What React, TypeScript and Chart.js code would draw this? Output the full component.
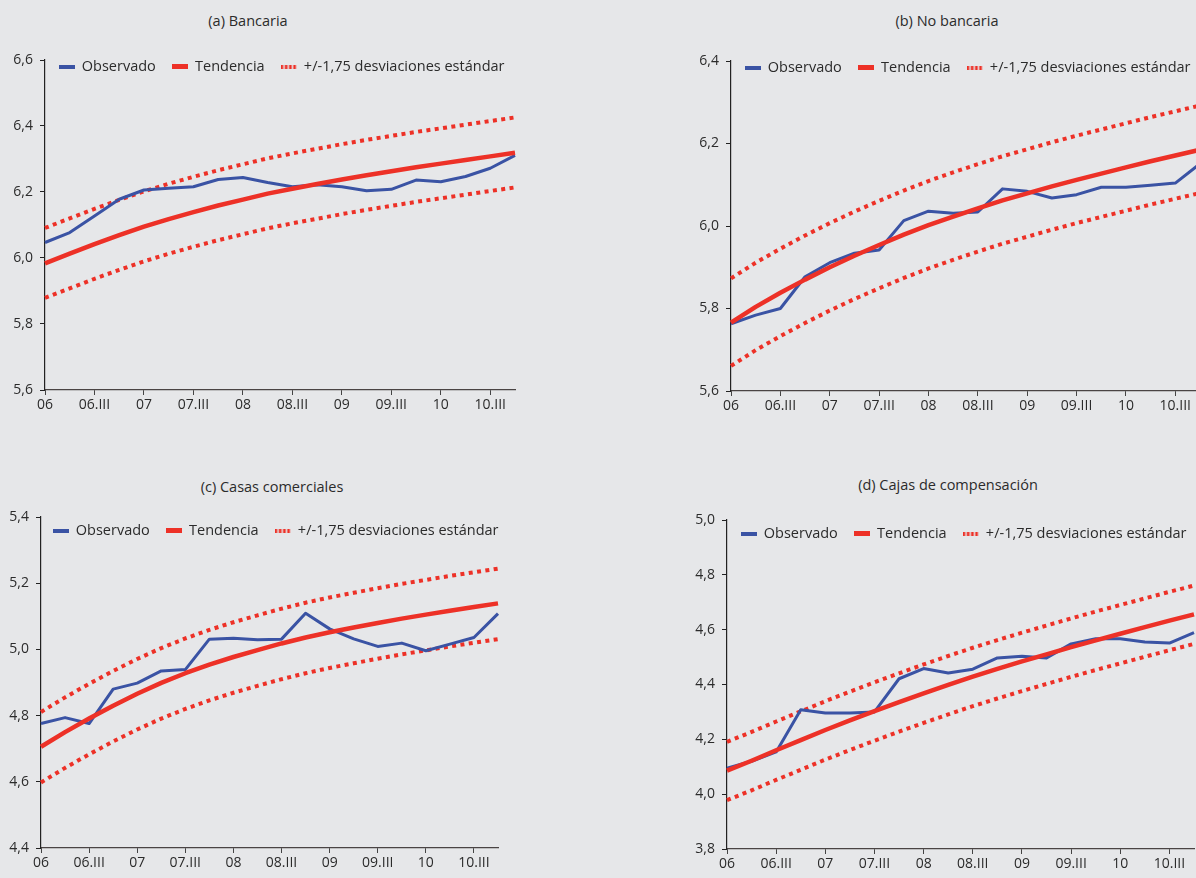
import React, { useEffect, useRef } from "react";
import { Chart, registerables } from "chart.js";

Chart.register(...registerables);

const FONT = '"Open Sans", "Noto Sans", sans-serif';
const BLUE = "#3a53a4";
const RED = "#ed3127";
const TEXT = "#2b2b2b";
const BG = "#e6e7e9";

const QUARTERS = [
  "06", "06.II", "06.III", "06.IV",
  "07", "07.II", "07.III", "07.IV",
  "08", "08.II", "08.III", "08.IV",
  "09", "09.II", "09.III", "09.IV",
  "10", "10.II", "10.III", "10.IV",
];

const LEGEND_LABELS = ["Observado", "Tendencia", "+/-1,75 desviaciones estándar"];

// (a) Bancaria
const A_OBS = [6.047, 6.077, 6.127, 6.178, 6.206, 6.211, 6.216, 6.238, 6.244, 6.229, 6.216, 6.222, 6.216, 6.204, 6.208, 6.236, 6.231, 6.247, 6.272, 6.311];
const A_TREND = [5.984, 6.013, 6.042, 6.069, 6.095, 6.118, 6.139, 6.159, 6.177, 6.195, 6.210, 6.224, 6.238, 6.251, 6.263, 6.275, 6.286, 6.297, 6.308, 6.319];
const A_UP = [6.091, 6.120, 6.149, 6.176, 6.202, 6.225, 6.246, 6.266, 6.284, 6.302, 6.317, 6.331, 6.345, 6.358, 6.370, 6.382, 6.393, 6.404, 6.415, 6.426];
const A_LOW = [5.879, 5.908, 5.937, 5.964, 5.990, 6.013, 6.034, 6.054, 6.072, 6.090, 6.105, 6.119, 6.133, 6.146, 6.158, 6.170, 6.181, 6.192, 6.203, 6.214];

// (b) No bancaria
const B_OBS = [5.763, 5.784, 5.800, 5.877, 5.911, 5.934, 5.942, 6.013, 6.036, 6.031, 6.034, 6.090, 6.084, 6.068, 6.076, 6.094, 6.094, 6.099, 6.104, 6.151];
const B_TREND = [5.766, 5.804, 5.838, 5.870, 5.900, 5.928, 5.954, 5.979, 6.002, 6.023, 6.043, 6.062, 6.079, 6.096, 6.112, 6.127, 6.142, 6.157, 6.171, 6.185];
const B_UP = [5.873, 5.911, 5.945, 5.977, 6.007, 6.035, 6.061, 6.086, 6.109, 6.130, 6.150, 6.169, 6.186, 6.203, 6.219, 6.234, 6.249, 6.264, 6.278, 6.292];
const B_LOW = [5.661, 5.699, 5.733, 5.765, 5.795, 5.823, 5.849, 5.874, 5.897, 5.918, 5.938, 5.957, 5.974, 5.991, 6.007, 6.022, 6.037, 6.052, 6.066, 6.080];

// (c) Casas comerciales
const C_OBS = [4.776, 4.794, 4.776, 4.880, 4.898, 4.935, 4.939, 5.031, 5.034, 5.029, 5.031, 5.109, 5.062, 5.032, 5.009, 5.019, 4.996, 5.016, 5.036, 5.108];
const C_TREND = [4.706, 4.750, 4.791, 4.830, 4.866, 4.899, 4.928, 4.954, 4.977, 4.998, 5.018, 5.036, 5.052, 5.066, 5.080, 5.093, 5.105, 5.117, 5.128, 5.139];
const C_UP = [4.811, 4.855, 4.896, 4.935, 4.971, 5.004, 5.033, 5.059, 5.082, 5.103, 5.123, 5.141, 5.157, 5.171, 5.185, 5.198, 5.210, 5.222, 5.233, 5.244];
const C_LOW = [4.598, 4.642, 4.683, 4.722, 4.758, 4.791, 4.820, 4.846, 4.869, 4.890, 4.910, 4.928, 4.944, 4.958, 4.972, 4.985, 4.997, 5.009, 5.020, 5.031];

// (d) Cajas de compensación
const D_OBS = [4.095, 4.120, 4.154, 4.308, 4.296, 4.296, 4.300, 4.421, 4.458, 4.442, 4.456, 4.497, 4.503, 4.497, 4.548, 4.567, 4.567, 4.555, 4.551, 4.589];
const D_TREND = [4.086, 4.122, 4.160, 4.197, 4.234, 4.269, 4.303, 4.336, 4.368, 4.399, 4.429, 4.457, 4.484, 4.510, 4.536, 4.561, 4.585, 4.609, 4.633, 4.656];
const D_UP = [4.191, 4.227, 4.265, 4.302, 4.339, 4.374, 4.408, 4.441, 4.473, 4.504, 4.534, 4.562, 4.589, 4.615, 4.641, 4.666, 4.690, 4.714, 4.738, 4.761];
const D_LOW = [3.978, 4.014, 4.052, 4.089, 4.126, 4.161, 4.195, 4.228, 4.260, 4.291, 4.321, 4.349, 4.376, 4.402, 4.428, 4.453, 4.477, 4.501, 4.525, 4.548];

const LEG_PAD = 16;
const LEG_FONT = 14.5;
const LEGEND_H = LEG_FONT + LEG_PAD + 10;

function makeSample(kind: string): HTMLCanvasElement {
  const c = document.createElement("canvas");
  c.width = 16;
  c.height = kind === "trend" ? 5 : 4;
  const ctx = c.getContext("2d")!;
  if (kind === "obs") {
    ctx.fillStyle = BLUE;
    ctx.fillRect(0, 0, 16, 4);
  } else if (kind === "trend") {
    ctx.fillStyle = RED;
    ctx.fillRect(0, 0, 16, 5);
  } else {
    ctx.fillStyle = RED;
    for (let i = 0; i < 4; i++) ctx.fillRect(i * 4.2, 0, 2.6, 4);
  }
  return c;
}

// moves the legend inside the plot area, on top of its first row
function makeLegendShift(dx: number, dy: number) {
  return {
    id: "legendShift",
    afterLayout(chart: any) {
      const lg = chart.legend;
      const ca = chart.chartArea;
      if (!lg || !ca) return;
      const h = lg.height;
      lg.left = ca.left + dx - 40;
      lg.right = ca.right + dx + 40;
      lg.width = lg.right - lg.left;
      lg.top = ca.top - LEG_PAD + dy - LEG_FONT / 2;
      lg.bottom = lg.top + h;
    },
  };
}

type PanelProps = {
  title: string;
  titleX: number;
  titleY: number;
  obs: number[];
  trend: number[];
  up: number[];
  low: number[];
  yMin: number;
  yMax: number;
  box: { L: number; T: number; W: number; H: number };
  area: { left: number; top: number; right: number; bottom: number };
  legendDx: number;
  legendDy: number;
};

const Y_W = 40;
const X_H = 28;

function Panel(p: PanelProps) {
  const ref = useRef<HTMLCanvasElement | null>(null);
  useEffect(() => {
    if (!ref.current) return;
    const samples = [makeSample("obs"), makeSample("trend"), makeSample("band")];
    const padding = {
      left: p.area.left - p.box.L - Y_W,
      top: p.area.top - p.box.T - LEGEND_H,
      right: p.box.L + p.box.W - p.area.right,
      bottom: p.box.T + p.box.H - p.area.bottom - X_H,
    };
    const chart = new Chart(ref.current, {
      type: "line",
      data: {
        labels: QUARTERS,
        datasets: [
          {
            label: LEGEND_LABELS[0],
            data: p.obs,
            borderColor: BLUE,
            borderWidth: 3,
            pointRadius: 0,
            tension: 0,
            fill: false,
            order: 1,
            borderJoinStyle: "round",
          },
          {
            label: LEGEND_LABELS[1],
            data: p.trend,
            borderColor: RED,
            borderWidth: 4.5,
            pointRadius: 0,
            tension: 0,
            fill: false,
            order: 0,
            borderJoinStyle: "round",
          },
          {
            label: LEGEND_LABELS[2],
            data: p.up,
            borderColor: RED,
            borderWidth: 4,
            borderDash: [4, 4.4],
            borderCapStyle: "butt",
            pointRadius: 0,
            tension: 0,
            fill: false,
            order: 2,
          },
          {
            label: "lower",
            data: p.low,
            borderColor: RED,
            borderWidth: 4,
            borderDash: [4, 4.4],
            borderCapStyle: "butt",
            pointRadius: 0,
            tension: 0,
            fill: false,
            order: 3,
          },
        ],
      },
      options: {
        responsive: false,
        animation: false,
        events: [],
        layout: { padding },
        plugins: {
          tooltip: { enabled: false },
          title: { display: false },
          legend: {
            position: "top",
            align: "center",
            labels: {
              usePointStyle: true,
              pointStyleWidth: 16,
              padding: LEG_PAD,
              font: { family: FONT, size: LEG_FONT },
              color: TEXT,
              generateLabels: () =>
                LEGEND_LABELS.map((t, i) => ({
                  text: t,
                  pointStyle: samples[i],
                  fillStyle: "rgba(0,0,0,0)",
                  strokeStyle: "rgba(0,0,0,0)",
                  lineWidth: 0,
                  hidden: false,
                  datasetIndex: i,
                  fontColor: TEXT,
                })),
            },
          },
        },
        scales: {
          x: {
            type: "category",
            offset: false,
            afterFit: (s: any) => {
              s.height = X_H;
            },
            grid: {
              display: true,
              drawOnChartArea: false,
              drawTicks: true,
              tickLength: 5,
              color: "#444",
            },
            border: { display: true, color: "#4a4444", width: 1.2 },
            ticks: {
              autoSkip: false,
              maxRotation: 0,
              minRotation: 0,
              padding: 2,
              color: TEXT,
              font: { family: FONT, size: 14 },
              callback: (_v: any, i: number) => (i % 2 === 0 ? QUARTERS[i] : null),
            },
          },
          y: {
            min: p.yMin,
            max: p.yMax,
            afterFit: (s: any) => {
              s.width = Y_W;
            },
            grid: {
              display: true,
              drawOnChartArea: false,
              drawTicks: true,
              tickLength: 5,
              color: "#222",
            },
            border: { display: true, color: "#222", width: 1.2 },
            ticks: {
              stepSize: 0.2,
              padding: 7,
              color: TEXT,
              font: { family: FONT, size: 14 },
              callback: (v: any) => Number(v).toFixed(1).replace(".", ","),
            },
          },
        },
      },
      plugins: [makeLegendShift(p.legendDx, p.legendDy)],
    } as any);
    return () => chart.destroy();
  }, []);

  return (
    <>
      <div
        style={{
          position: "absolute",
          left: p.titleX - 200,
          top: p.titleY - 10,
          width: 400,
          height: 20,
          lineHeight: "20px",
          textAlign: "center",
          fontFamily: FONT,
          fontSize: 14.5,
          color: TEXT,
          whiteSpace: "nowrap",
        }}
      >
        {p.title}
      </div>
      <canvas
        ref={ref}
        width={p.box.W}
        height={p.box.H}
        style={{ position: "absolute", left: p.box.L, top: p.box.T, width: p.box.W, height: p.box.H }}
      />
    </>
  );
}

export default function App() {
  return (
    <div
      style={{
        position: "fixed",
        left: 0,
        top: 0,
        width: 1196,
        height: 878,
        background: BG,
        overflow: "hidden",
      }}
    >
      <Panel
        title="(a) Bancaria"
        titleX={248}
        titleY={21}
        obs={A_OBS}
        trend={A_TREND}
        up={A_UP}
        low={A_LOW}
        yMin={5.6}
        yMax={6.6}
        box={{ L: 0, T: 0, W: 560, H: 440 }}
        area={{ left: 45, top: 60, right: 515, bottom: 390 }}
        legendDx={1.5}
        legendDy={6.5}
      />
      <Panel
        title="(b) No bancaria"
        titleX={947}
        titleY={21}
        obs={B_OBS}
        trend={B_TREND}
        up={B_UP}
        low={B_LOW}
        yMin={5.6}
        yMax={6.4}
        box={{ L: 690, T: 0, W: 560, H: 440 }}
        area={{ left: 731, top: 61, right: 1200, bottom: 391 }}
        legendDx={2}
        legendDy={6.5}
      />
      <Panel
        title="(c) Casas comerciales"
        titleX={272}
        titleY={487}
        obs={C_OBS}
        trend={C_TREND}
        up={C_UP}
        low={C_LOW}
        yMin={4.4}
        yMax={5.4}
        box={{ L: 0, T: 460, W: 540, H: 418 }}
        area={{ left: 41, top: 517, right: 498, bottom: 848 }}
        legendDx={6}
        legendDy={13.5}
      />
      <Panel
        title="(d) Cajas de compensación"
        titleX={948}
        titleY={485}
        obs={D_OBS}
        trend={D_TREND}
        up={D_UP}
        low={D_LOW}
        yMin={3.8}
        yMax={5.0}
        box={{ L: 686, T: 460, W: 560, H: 418 }}
        area={{ left: 727, top: 520, right: 1194, bottom: 849 }}
        legendDx={3}
        legendDy={13.5}
      />
    </div>
  );
}
